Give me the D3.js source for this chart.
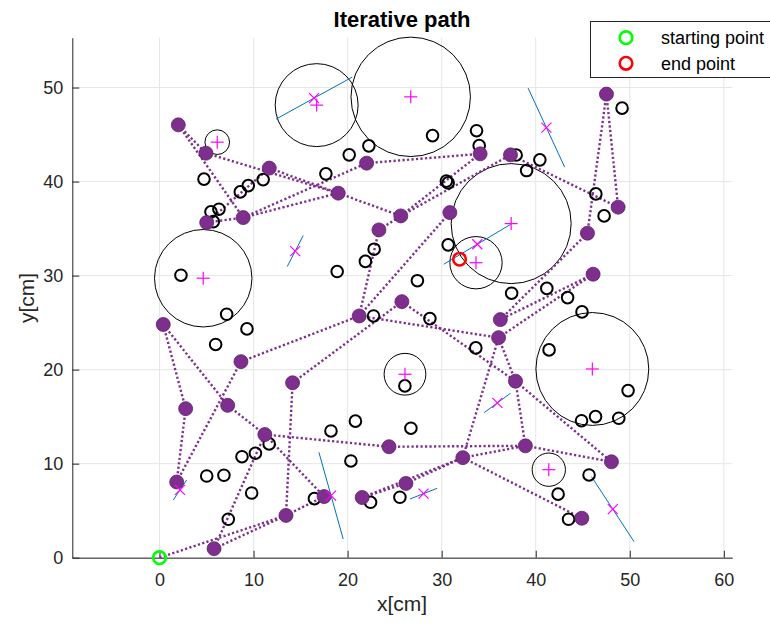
<!DOCTYPE html>
<html>
<head>
<meta charset="utf-8">
<script src="https://cdn.jsdelivr.net/npm/d3@7"></script>
<style>
  body { margin: 0; background: #fff; }
  text { font-family: "Liberation Sans", Arial, Helvetica, sans-serif; }
</style>
</head>
<body>
<div id="chart"></div>
<script>
// visited path nodes (id 0 = starting point)
const nodeX = [0, 2.0, 4.94, 5.02, 8.9, 11.67, 19.0, 22.02, 34.09, 37.32, 47.52,
  48.76, 45.5, 46.1, 25.66, 23.33, 30.87, 21.23, 25.77, 36.24, 36.05,
  37.85, 0.4, 8.66, 14.15, 2.78, 7.25, 11.2, 1.83, 5.8, 13.45,
  17.5, 21.55, 24.4, 26.2, 32.25, 38.9, 48.05, 44.9];
const nodeY = [0, 46.03, 43.02, 35.64, 36.17, 41.43, 38.77, 41.96, 42.95, 42.84, 49.3,
  37.28, 34.51, 30.15, 36.35, 34.86, 36.7, 25.71, 27.23, 25.32, 23.4,
  18.77, 24.8, 20.85, 18.6, 15.85, 16.2, 13.1, 8.05, 0.96, 4.5,
  6.5, 6.4, 11.8, 7.9, 10.64, 11.9, 10.2, 4.2];

// dotted path segments (pairs of node ids)
const edges = [[0,30],[29,30],[30,31],[24,30],[29,27],[27,31],[26,27],[22,26],[22,25],
  [25,28],[23,28],[23,17],[24,18],[27,33],[33,36],[32,34],[34,35],[32,35],[35,20],
  [35,36],[35,38],[36,21],[36,37],[21,37],[18,21],[20,21],[17,20],[17,15],[17,16],
  [13,19],[13,20],[12,19],[10,12],[10,11],[9,11],[15,14],[14,9],[14,8],[7,8],[4,7],
  [4,6],[6,14],[2,6],[5,6],[3,5],[3,4],[1,2],[1,4]];

// other (unvisited) points
const ptX = [4.73, 5.47, 6.32, 5.72, 8.59, 9.44, 11.02, 17.69, 20.17, 22.26, 29.03, 33.71,
  33.99, 30.5, 30.69, 37.92, 39.03, 49.18, 40.44, 46.39, 47.27, 2.28, 7.14, 9.3, 5.97,
  18.89, 21.89, 22.82, 30.69, 27.42, 37.44, 41.18, 43.39, 44.92, 22.76, 28.75, 33.63,
  41.42, 26.09, 49.82, 44.87, 46.36, 48.83, 20.83, 18.23, 26.73, 20.35, 11.66, 10.2,
  8.77, 5.02, 6.85, 9.8, 7.31, 16.47, 22.44, 25.56, 45.67, 42.38, 43.49];
const ptY = [40.26, 36.78, 37.06, 35.74, 38.9, 39.57, 40.21, 40.82, 42.84, 43.8, 44.89, 45.41,
  43.82, 40.05, 39.86, 42.82, 41.17, 47.81, 42.31, 38.69, 36.35, 30.04, 25.89, 24.33, 22.68,
  30.43, 31.51, 32.81, 33.27, 29.46, 28.13, 28.64, 27.66, 26.14, 25.71, 25.43, 22.31,
  22.1, 18.27, 17.77, 14.57, 15.0, 14.83, 14.52, 13.48, 13.77, 10.29, 12.1, 11.11,
  10.74, 8.69, 8.77, 6.88, 4.09, 6.28, 5.89, 6.43, 8.8, 6.76, 4.09];

// circular regions: centre and radius
const circX = [6.14, 16.71, 26.71, 4.65, 37.39, 33.65, 46.02, 26.1, 41.39];
const circY = [44.19, 48.13, 49.01, 29.72, 35.53, 31.37, 20.07, 19.51, 9.36];
const circR = [1.31, 4.41, 6.35, 5.18, 6.38, 2.78, 6.0, 2.22, 1.77];

// line regions: end points, x marker at the middle
const segX1 = [12.38, 39.19, 15.28, 2.89, 16.95, 26.62, 34.52, 45.93, 30.23];
const segY1 = [46.64, 49.94, 34.26, 8.27, 11.21, 6.24, 15.43, 8.62, 31.21];
const segX2 = [20.49, 43.08, 13.58, 1.47, 19.53, 29.52, 37.32, 50.46, 37.35];
const segY2 = [51.11, 41.53, 30.96, 6.14, 1.99, 7.38, 17.49, 1.7, 35.46];

const startPt = [0, 0];
const endPt = [31.9, 31.74];

const xTicks = [0, 10, 20, 30, 40, 50, 60];
const yTicks = [0, 10, 20, 30, 40, 50];

const W = 770, H = 623;
const svg = d3.select("#chart").append("svg")
  .attr("width", W).attr("height", H);

const x = d3.scaleLinear().domain([-9.27, 60.9]).range([72.3, 732.3]);
const y = d3.scaleLinear().domain([0, 55.3]).range([557.7, 37.7]);
const k = x(1) - x(0);
const axisColor = "#262626";
const purple = "#7E2F8E";
const magenta = "#FF00FF";

// grid
svg.append("g").selectAll("line").data(xTicks).enter().append("line")
  .attr("x1", d => x(d)).attr("x2", d => x(d))
  .attr("y1", y.range()[1]).attr("y2", y.range()[0])
  .attr("stroke", "#e6e6e6").attr("stroke-width", 1);
svg.append("g").selectAll("line").data(yTicks).enter().append("line")
  .attr("y1", d => y(d)).attr("y2", d => y(d))
  .attr("x1", x.range()[0]).attr("x2", x.range()[1])
  .attr("stroke", "#e6e6e6").attr("stroke-width", 1);

// axes (ticks pointing inward)
svg.append("g")
  .attr("transform", `translate(0,${y(0)})`)
  .call(d3.axisBottom(x).tickValues(xTicks).tickSize(-7).tickPadding(16).tickSizeOuter(0))
  .call(g => g.selectAll("text").style("font-size", "18px").attr("fill", axisColor))
  .call(g => g.selectAll("line").attr("stroke", axisColor))
  .call(g => g.select(".domain").attr("stroke", axisColor));
svg.append("g")
  .attr("transform", `translate(${x.range()[0]},0)`)
  .call(d3.axisLeft(y).tickValues(yTicks).tickSize(-7).tickPadding(9).tickSizeOuter(0))
  .call(g => g.selectAll("text").style("font-size", "18px").attr("fill", axisColor))
  .call(g => g.selectAll("line").attr("stroke", axisColor))
  .call(g => g.select(".domain").attr("stroke", axisColor));

// region circles
svg.append("g").selectAll("circle").data(circX).enter().append("circle")
  .attr("cx", (d, i) => x(d)).attr("cy", (d, i) => y(circY[i]))
  .attr("r", (d, i) => circR[i] * k)
  .attr("fill", "none").attr("stroke", "#000").attr("stroke-width", 1);

// region lines
svg.append("g").selectAll("line").data(segX1).enter().append("line")
  .attr("x1", d => x(d)).attr("y1", (d, i) => y(segY1[i]))
  .attr("x2", (d, i) => x(segX2[i])).attr("y2", (d, i) => y(segY2[i]))
  .attr("stroke", "#0072BD").attr("stroke-width", 1);

// path
svg.append("g").selectAll("line").data(edges).enter().append("line")
  .attr("x1", d => x(nodeX[d[0]])).attr("y1", d => y(nodeY[d[0]]))
  .attr("x2", d => x(nodeX[d[1]])).attr("y2", d => y(nodeY[d[1]]))
  .attr("stroke", purple).attr("stroke-width", 2.4)
  .attr("stroke-dasharray", "2.2,2.3");

// unvisited points
svg.append("g").selectAll("circle").data(ptX).enter().append("circle")
  .attr("cx", d => x(d)).attr("cy", (d, i) => y(ptY[i]))
  .attr("r", 5.8).attr("fill", "none")
  .attr("stroke", "#000").attr("stroke-width", 2);

// visited points
svg.append("g").selectAll("circle").data(nodeX.slice(1)).enter().append("circle")
  .attr("cx", d => x(d)).attr("cy", (d, i) => y(nodeY[i + 1]))
  .attr("r", 7).attr("fill", purple)
  .attr("stroke", "#5e2169").attr("stroke-width", 0.8);

// + markers at circle centres
const plus = 6.5;
const gp = svg.append("g").attr("stroke", magenta).attr("stroke-width", 1.2);
circX.forEach((cx, i) => {
  const px = x(cx), py = y(circY[i]);
  gp.append("line").attr("x1", px - plus).attr("x2", px + plus).attr("y1", py).attr("y2", py);
  gp.append("line").attr("x1", px).attr("x2", px).attr("y1", py - plus).attr("y2", py + plus);
});
// x markers at line middles
const cr = 5;
segX1.forEach((sx, i) => {
  const px = x((sx + segX2[i]) / 2), py = y((segY1[i] + segY2[i]) / 2);
  gp.append("line").attr("x1", px - cr).attr("x2", px + cr).attr("y1", py - cr).attr("y2", py + cr);
  gp.append("line").attr("x1", px - cr).attr("x2", px + cr).attr("y1", py + cr).attr("y2", py - cr);
});

// start / end
svg.append("circle").attr("cx", x(startPt[0])).attr("cy", y(startPt[1])).attr("r", 6.3)
  .attr("fill", "none").attr("stroke", "#00FF00").attr("stroke-width", 2.6);
svg.append("circle").attr("cx", x(endPt[0])).attr("cy", y(endPt[1])).attr("r", 6.3)
  .attr("fill", "none").attr("stroke", "#FF0000").attr("stroke-width", 2.6);

// title and labels
svg.append("text").attr("x", 402).attr("y", 27).attr("text-anchor", "middle")
  .style("font-size", "22px").style("font-weight", "bold").attr("fill", "#000")
  .text("Iterative path");
svg.append("text").attr("x", 402).attr("y", 611).attr("text-anchor", "middle")
  .style("font-size", "21px").attr("fill", axisColor).text("x[cm]");
svg.append("text").attr("transform", "translate(34,298) rotate(-90)").attr("text-anchor", "middle")
  .style("font-size", "21px").attr("fill", axisColor).text("y[cm]");

// legend
const lg = svg.append("g");
lg.append("rect").attr("x", 590.5).attr("y", 21.5).attr("width", 190).attr("height", 56)
  .attr("fill", "#fff").attr("stroke", axisColor).attr("stroke-width", 1);
const legendItems = [["starting point", "#00FF00"], ["end point", "#FF0000"]];
legendItems.forEach((d, i) => {
  const yy = 37.7 + i * 25.6;
  lg.append("circle").attr("cx", 626).attr("cy", yy).attr("r", 6.3)
    .attr("fill", "none").attr("stroke", d[1]).attr("stroke-width", 2.6);
  lg.append("text").attr("x", 661).attr("y", yy).attr("dy", "0.35em")
    .style("font-size", "18px").attr("fill", "#000").text(d[0]);
});
</script>
</body>
</html>
